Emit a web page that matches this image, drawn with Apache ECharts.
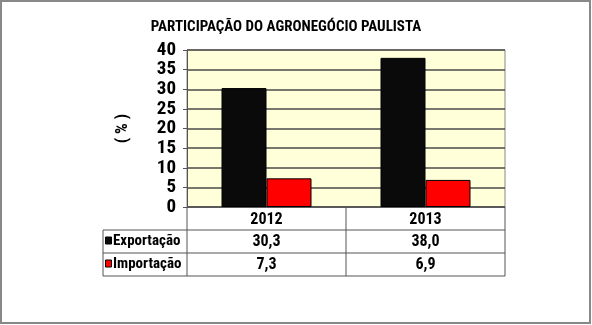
<!DOCTYPE html>
<html><head><meta charset="utf-8">
<script src="https://cdn.jsdelivr.net/npm/echarts@6/dist/echarts.min.js"></script>
<style>html,body{margin:0;padding:0;background:#fff}#c{width:592px;height:325px}</style>
</head><body><div id="c"></div>
<script>
var title = 'PARTICIPAÇÃO DO AGRONEGÓCIO PAULISTA';
var categories = ['2012', '2013'];
var seriesNames = ['Exportação', 'Importação'];
var exportacao = [30.3, 38.0];
var importacao = [7.3, 6.9];
var yTicks = [0, 5, 10, 15, 20, 25, 30, 35, 40];
var colors = ['#0a0a0a', '#ff0000'];

var G = {left: 187, top: 50, width: 318, height: 157};
var rowH = 23;
var tableLeft = 103;
var FONT = '"Roboto Condensed", "Liberation Sans", Arial, sans-serif';

function fmt(v){ return v.toFixed(1).replace('.', ','); }

var chart = echarts.init(document.getElementById('c'), null, {renderer: 'canvas'});
var gx0 = G.left, gx1 = G.left + G.width, gy1 = G.top + G.height;
var colW = G.width / categories.length;
var lineStyle = {stroke: '#555', lineWidth: 1};
var graphics = [];
graphics.push({type: 'rect', shape: {x: 1, y: 1, width: 589, height: 322}, style: {fill: 'none', stroke: '#888', lineWidth: 2}, silent: true});
graphics.push({type: 'line', shape: {x1: gx0, y1: gy1, x2: gx1, y2: gy1}, style: lineStyle});
for (var r = 1; r <= 3; r++) {
  graphics.push({type: 'line', shape: {x1: tableLeft, y1: gy1 + rowH * r, x2: gx1, y2: gy1 + rowH * r}, style: lineStyle});
}
for (var c = 0; c <= categories.length; c++) {
  graphics.push({type: 'line', shape: {x1: gx0 + colW * c, y1: gy1, x2: gx0 + colW * c, y2: gy1 + rowH * 3}, style: lineStyle});
}
graphics.push({type: 'line', shape: {x1: tableLeft, y1: gy1 + rowH, x2: tableLeft, y2: gy1 + rowH * 3}, style: lineStyle});
var rows = [exportacao, importacao];
for (var s = 0; s < rows.length; s++) {
  var cy = gy1 + rowH * (s + 1) + rowH / 2;
  graphics.push({type: 'rect', shape: {x: tableLeft + 2.5, y: cy - 4.5, width: 6, height: 7}, style: {fill: colors[s], stroke: '#000', lineWidth: 1}});
  graphics.push({type: 'text', style: {text: seriesNames[s], x: tableLeft + 10, y: cy, textVerticalAlign: 'middle', font: 'bold 15px ' + FONT, fill: '#000'}});
  for (var c2 = 0; c2 < categories.length; c2++) {
    graphics.push({type: 'text', style: {text: fmt(rows[s][c2]), x: gx0 + colW * (c2 + 0.5), y: cy, textAlign: 'center', textVerticalAlign: 'middle', font: 'bold 16px ' + FONT, fill: '#000'}});
  }
}

chart.setOption({
  animation: false,
  backgroundColor: '#fff',
  title: {text: title, left: 281, top: 15, textAlign: 'center', textStyle: {fontFamily: FONT, fontWeight: 'bold', fontSize: 15, color: '#000'}},
  grid: {left: G.left, top: G.top, width: G.width, height: G.height, show: true, backgroundColor: '#ffffd9', borderColor: '#888', borderWidth: 1},
  xAxis: {
    type: 'category', data: categories,
    axisLine: {show: false}, axisTick: {show: false},
    axisLabel: {margin: 5, fontFamily: FONT, fontWeight: 'bold', fontSize: 16, color: '#000'}
  },
  yAxis: {
    type: 'value', min: 0, max: 40, interval: 5,
    name: '( % )', nameLocation: 'middle', nameGap: 56, nameRotate: 90,
    nameTextStyle: {fontFamily: FONT, fontWeight: 'bold', fontSize: 17, color: '#000'},
    axisLine: {show: true, lineStyle: {color: '#555', width: 1}},
    axisTick: {show: true, length: 4, lineStyle: {color: '#555'}},
    axisLabel: {margin: 11, fontFamily: FONT, fontWeight: 'bold', fontSize: 19, color: '#000',
      formatter: function(v){ return yTicks.indexOf(v) >= 0 ? String(v) : ''; }},
    splitLine: {show: true, lineStyle: {color: '#4a4a4a', width: 1.5}}
  },
  series: [
    {name: seriesNames[0], type: 'bar', data: exportacao, barWidth: 45, barGap: '0%', itemStyle: {color: colors[0], borderColor: '#000', borderWidth: 1}},
    {name: seriesNames[1], type: 'bar', data: importacao, barWidth: 45, barGap: '0%', itemStyle: {color: colors[1], borderColor: '#000', borderWidth: 1}}
  ],
  graphic: graphics
});
</script></body></html>
